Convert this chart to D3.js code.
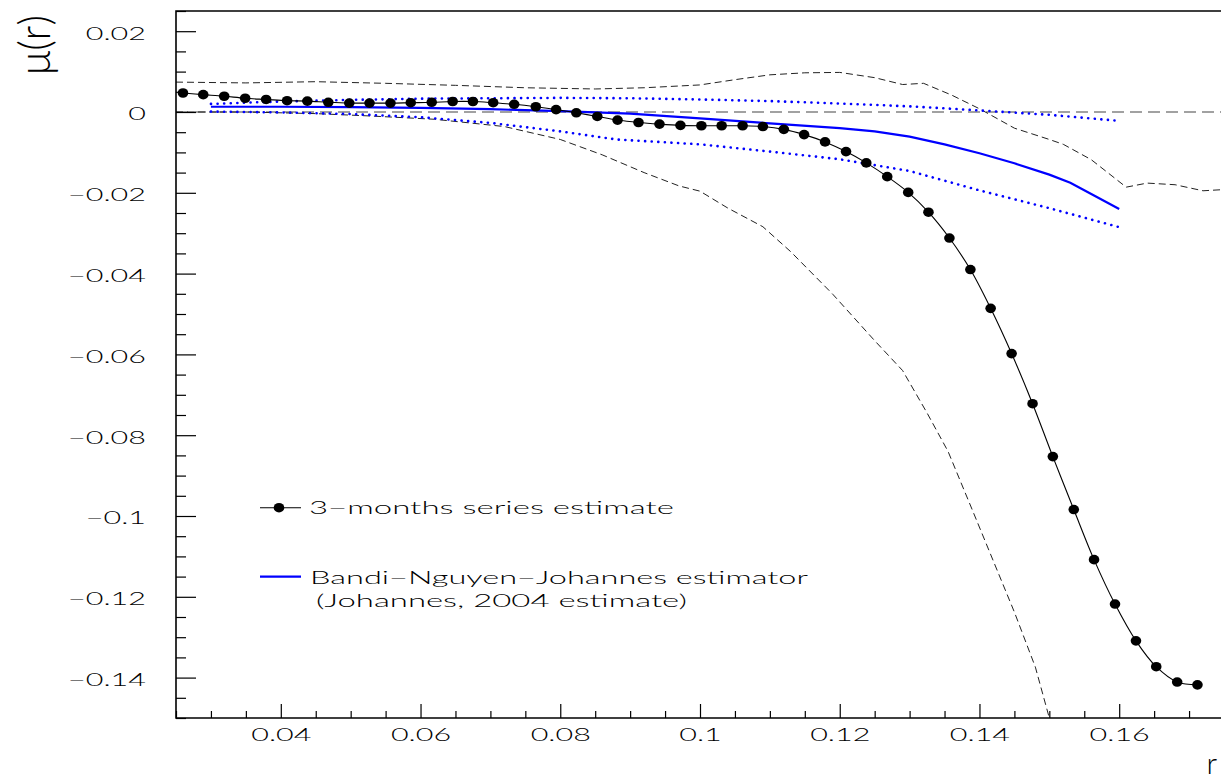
<!DOCTYPE html>
<html>
<head>
<meta charset="utf-8">
<script src="https://cdn.jsdelivr.net/npm/d3@7.9.0/dist/d3.min.js"></script>
<style>
  body { margin: 0; background: #fff; }
  svg { display: block; }
  text { font-family: Lato, "DejaVu Sans", sans-serif; font-weight: 300; fill: #000; }
</style>
</head>
<body>
<div id="chart"></div>
<script>
// 3-months series estimate (black dots)
const estR = [0.0260, 0.0289, 0.0319, 0.0349, 0.0379, 0.0409, 0.0438, 0.0468, 0.0498, 0.0527,
              0.0557, 0.0586, 0.0616, 0.0646, 0.0675, 0.0704, 0.0734, 0.0765, 0.0794, 0.0823,
              0.0853, 0.0882, 0.0912, 0.0942, 0.0972, 0.1002, 0.1031, 0.1061, 0.1090, 0.1120,
              0.1149, 0.1179, 0.1209, 0.1238, 0.1268, 0.1298, 0.1327, 0.1357, 0.1387, 0.1416,
              0.1446, 0.1476, 0.1505, 0.1535, 0.1564, 0.1594, 0.1624, 0.1653, 0.1683, 0.1712];
const estMu = [0.0047, 0.0043, 0.0039, 0.0034, 0.0031, 0.0028, 0.0027, 0.0024, 0.0022, 0.0022,
               0.0022, 0.0023, 0.0024, 0.0026, 0.0026, 0.0023, 0.0019, 0.0013, 0.0006, -0.0002,
               -0.0011, -0.0020, -0.0026, -0.0030, -0.0033, -0.0034, -0.0034, -0.0034, -0.0036, -0.0043,
               -0.0056, -0.0074, -0.0098, -0.0126, -0.0160, -0.0199, -0.0248, -0.0312, -0.0390, -0.0486,
               -0.0598, -0.0722, -0.0853, -0.0984, -0.1108, -0.1218, -0.1309, -0.1373, -0.1411, -0.1418];

// confidence band of the series estimate (black dashed)
const bandHiR  = [0.025, 0.035, 0.045, 0.055, 0.065, 0.075, 0.085, 0.092, 0.100, 0.105, 0.110, 0.115, 0.120,
                  0.125, 0.129, 0.132, 0.136, 0.140, 0.145, 0.150, 0.152, 0.156, 0.161, 0.164, 0.168, 0.172, 0.175];
const bandHiMu = [0.0074, 0.0072, 0.0075, 0.0071, 0.0066, 0.0060, 0.0057, 0.0060, 0.0067, 0.0080, 0.0092, 0.0097, 0.0098,
                  0.0085, 0.0068, 0.0071, 0.0042, 0.0008, -0.0040, -0.0068, -0.0080, -0.0118, -0.0186, -0.0176, -0.0180, -0.0195, -0.0192];
const bandLoR  = [0.025, 0.035, 0.045, 0.053, 0.062, 0.072, 0.080, 0.086, 0.092, 0.097, 0.100, 0.104,
                  0.109, 0.113, 0.119, 0.125, 0.129, 0.1325, 0.1355, 0.139, 0.142, 0.145, 0.148, 0.150];
const bandLoMu = [0.0000, 0.0000, -0.0004, -0.0010, -0.0018, -0.0036, -0.0068, -0.0106, -0.0150, -0.0183, -0.0196, -0.0238,
                  -0.0284, -0.0346, -0.0451, -0.0566, -0.0640, -0.0745, -0.0840, -0.0986, -0.1112, -0.1238, -0.1374, -0.1500];

// Bandi-Nguyen-Johannes estimator (blue) and its band (blue dotted)
const bnjR  = [0.030, 0.040, 0.050, 0.060, 0.070, 0.080, 0.090, 0.100, 0.110, 0.120, 0.125,
               0.130, 0.135, 0.140, 0.145, 0.150, 0.153, 0.156, 0.160];
const bnjMu = [0.0013, 0.0013, 0.0012, 0.0010, 0.0007, 0.0002, -0.0004, -0.0016, -0.0028, -0.0040, -0.0048,
               -0.0061, -0.0080, -0.0102, -0.0127, -0.0155, -0.0175, -0.0203, -0.0240];
const bnjHiR  = [0.030, 0.040, 0.050, 0.060, 0.070, 0.080, 0.090, 0.100, 0.110, 0.120, 0.130, 0.140, 0.150, 0.160];
const bnjHiMu = [0.0020, 0.0026, 0.0030, 0.0033, 0.0034, 0.0035, 0.0034, 0.0031, 0.0027, 0.0021, 0.0014, 0.0004, -0.0007, -0.0022];
const bnjLoR  = [0.030, 0.040, 0.050, 0.060, 0.070, 0.080, 0.088, 0.095, 0.100, 0.110, 0.120, 0.130, 0.140, 0.150, 0.160];
const bnjLoMu = [0.0001, -0.0001, -0.0005, -0.0013, -0.0027, -0.0048, -0.0068, -0.0075, -0.0080, -0.0098, -0.0117,
                 -0.0146, -0.0194, -0.0238, -0.0285];

const xTicks = [0.04, 0.06, 0.08, 0.1, 0.12, 0.14, 0.16];
const yTicks = [0.02, 0, -0.02, -0.04, -0.06, -0.08, -0.1, -0.12, -0.14];
const xDomain = [0.025, 0.175];
const yDomain = [-0.15, 0.025];

const legendLabels = ['3\u2212months series estimate',
                      'Bandi\u2212Nguyen\u2212Johannes estimator',
                      '(Johannes, 2004 estimate)'];

const SX = 1.65; // wide lettering of the original

const margin = { top: 11, right: -3, bottom: 63, left: 176 };
const fullWidth = 1221, fullHeight = 781;
const width  = fullWidth  - margin.left - margin.right;
const height = fullHeight - margin.top  - margin.bottom;

const svg = d3.select('#chart').append('svg')
    .attr('width', fullWidth).attr('height', fullHeight);
const g = svg.append('g').attr('transform', `translate(${margin.left},${margin.top})`);

const x = d3.scaleLinear().domain(xDomain).range([0, width]);
const y = d3.scaleLinear().domain(yDomain).range([height, 0]);

const zip = (a, b) => a.map((v, i) => [v, b[i]]);
const line = d3.line().x(d => x(d[0])).y(d => y(d[1]));
const fmt = d3.format('');

// zero line
g.append('path')
  .datum([[xDomain[0], 0], [xDomain[1], 0]])
  .attr('d', line).attr('fill', 'none')
  .attr('stroke', '#444').attr('stroke-width', 1.2).attr('stroke-dasharray', '12,6');

// black dashed band
[zip(bandHiR, bandHiMu), zip(bandLoR, bandLoMu)].forEach(pts => {
  g.append('path').datum(pts).attr('d', line).attr('fill', 'none')
    .attr('stroke', '#222').attr('stroke-width', 1).attr('stroke-dasharray', '7,4');
});

// blue dotted band
[zip(bnjHiR, bnjHiMu), zip(bnjLoR, bnjLoMu)].forEach(pts => {
  g.append('path').datum(pts).attr('d', line).attr('fill', 'none')
    .attr('stroke', '#0000ff').attr('stroke-width', 2.6)
    .attr('stroke-linecap', 'round').attr('stroke-dasharray', '0.1,6.5');
});

// blue solid estimator
g.append('path').datum(zip(bnjR, bnjMu)).attr('d', line).attr('fill', 'none')
  .attr('stroke', '#0000ff').attr('stroke-width', 2.2);

// series estimate: smooth line + dots
const est = zip(estR, estMu);
g.append('path').datum(est)
  .attr('d', d3.line().x(d => x(d[0])).y(d => y(d[1])).curve(d3.curveCatmullRom))
  .attr('fill', 'none').attr('stroke', '#000').attr('stroke-width', 1.1);
g.selectAll('ellipse.est').data(est).join('ellipse')
  .attr('class', 'est')
  .attr('cx', d => x(d[0])).attr('cy', d => y(d[1]))
  .attr('rx', 5.3).attr('ry', 4.8).attr('fill', '#000');

// axes
const stretch = (sel, dx, dy) => sel.selectAll('text')
  .attr('x', null).attr('y', null)
  .attr('transform', `translate(${dx},${dy}) scale(${SX},1)`)
  .style('font-size', '18.5px');

const yMinor = d3.range(-0.15, 0.0251, 0.005).filter(v => !yTicks.some(t => Math.abs(t - v) < 1e-9));
const xMinor = d3.range(0.025, 0.1751, 0.005).filter(v => !xTicks.some(t => Math.abs(t - v) < 1e-9));

g.append('g')
  .call(d3.axisLeft(y).tickValues(yMinor).tickSize(-10).tickFormat(''))
  .call(a => a.select('.domain').remove());
const yAx = g.append('g')
  .call(d3.axisLeft(y).tickValues(yTicks).tickSize(-20).tickPadding(30).tickFormat(fmt))
  .call(a => a.select('.domain').remove());
yAx.selectAll('text').attr('dy', null).attr('dominant-baseline', 'central');
stretch(yAx, -30, 0.5);

g.append('g').attr('transform', `translate(0,${height})`)
  .call(d3.axisBottom(x).tickValues(xMinor).tickSize(-7).tickFormat(''))
  .call(a => a.select('.domain').remove());
const xAx = g.append('g').attr('transform', `translate(0,${height})`)
  .call(d3.axisBottom(x).tickValues(xTicks).tickSize(-14).tickPadding(9).tickFormat(fmt))
  .call(a => a.select('.domain').remove());
xAx.selectAll('text').attr('dy', null);
stretch(xAx, 0, 22.5);

g.selectAll('.tick line').attr('stroke', '#000').attr('stroke-width', 1.2);

// frame
g.append('path')
  .attr('d', `M${width},0H0V${height}H${width}`)
  .attr('fill', 'none').attr('stroke', '#000').attr('stroke-width', 1.6);

// axis titles
svg.append('text')
  .attr('transform', 'translate(50,45) rotate(-90)')
  .attr('text-anchor', 'middle')
  .attr('textLength', 60).attr('lengthAdjust', 'spacingAndGlyphs')
  .style('font-size', '44px')
  .text('\u03bc(r)');
svg.append('text')
  .attr('transform', 'translate(1217,774)')
  .attr('text-anchor', 'end')
  .style('font-size', '30px')
  .text('r');

// legend
const leg = svg.append('g');
leg.append('line').attr('x1', 260).attr('x2', 301).attr('y1', 507.7).attr('y2', 507.7)
  .attr('stroke', '#000').attr('stroke-width', 1.1);
leg.append('ellipse').attr('cx', 279).attr('cy', 507.7).attr('rx', 5.3).attr('ry', 4.8).attr('fill', '#000');
leg.append('line').attr('x1', 260).attr('x2', 301).attr('y1', 576.7).attr('y2', 576.7)
  .attr('stroke', '#0000ff').attr('stroke-width', 2.2);
[[309, 513.5, 365], [310, 583.5, 498], [316, 607, 371]].forEach(([lx, ly, len], i) => {
  leg.append('text')
    .attr('x', lx).attr('y', ly)
    .attr('textLength', len).attr('lengthAdjust', 'spacingAndGlyphs')
    .style('font-size', '18.5px')
    .text(legendLabels[i]);
});
</script>
</body>
</html>
